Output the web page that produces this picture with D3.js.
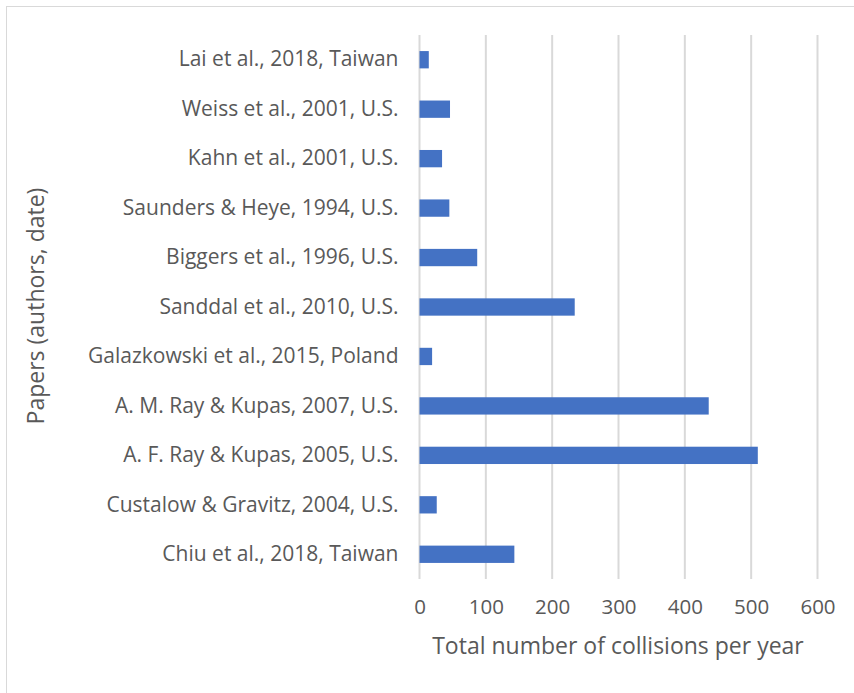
<!DOCTYPE html>
<html>
<head>
<meta charset="utf-8">
<script src="https://cdn.jsdelivr.net/npm/d3@7"></script>
<style>
  html, body { margin: 0; padding: 0; background: #fff; }
  svg { display: block; }
  text { font-family: "Open Sans", "Liberation Sans", sans-serif; fill: #595959; }
</style>
</head>
<body>
<svg id="chart" width="854" height="693"></svg>
<script>
// Papers reporting ambulance collisions, listed top to bottom
const papers = [
  "Lai et al., 2018, Taiwan",
  "Weiss et al., 2001, U.S.",
  "Kahn et al., 2001, U.S.",
  "Saunders & Heye, 1994, U.S.",
  "Biggers et al., 1996, U.S.",
  "Sanddal et al., 2010, U.S.",
  "Galazkowski et al., 2015, Poland",
  "A. M. Ray & Kupas, 2007, U.S.",
  "A. F. Ray & Kupas, 2005, U.S.",
  "Custalow & Gravitz, 2004, U.S.",
  "Chiu et al., 2018, Taiwan"
];
// Total number of collisions per year for each paper
const collisions = [14, 46, 34, 45, 87, 234, 19, 436, 510, 26, 143];
const xTicks = [0, 100, 200, 300, 400, 500, 600];

const svg = d3.select("#chart");
const plot = { left: 419.5, right: 817.5, top: 35, bottom: 579 };

const x = d3.scaleLinear().domain([0, 600]).range([plot.left, plot.right]);
const y = d3.scaleBand().domain(papers).range([plot.top, plot.bottom]).paddingInner(0.65).paddingOuter(0.325);

// chart frame
svg.append("rect")
  .attr("x", 6.5).attr("y", 6.5).attr("width", 860).attr("height", 700)
  .attr("fill", "none").attr("stroke", "#d9d9d9").attr("stroke-width", 1);

// vertical gridlines
svg.append("g")
  .selectAll("line")
  .data(xTicks)
  .join("line")
  .attr("x1", d => x(d)).attr("x2", d => x(d))
  .attr("y1", plot.top).attr("y2", plot.bottom)
  .attr("stroke", "#d9d9d9").attr("stroke-width", 2);

// bars
svg.append("g")
  .selectAll("rect")
  .data(papers)
  .join("rect")
  .attr("x", x(0))
  .attr("y", d => y(d))
  .attr("width", (d, i) => x(collisions[i]) - x(0))
  .attr("height", y.bandwidth())
  .attr("fill", "#4472c4");

// x axis labels
const xAxis = svg.append("g")
  .attr("transform", `translate(0,${plot.bottom})`)
  .call(d3.axisBottom(x).tickValues(xTicks).tickSize(0).tickPadding(20));
xAxis.select(".domain").remove();
xAxis.selectAll("text")
  .style("font-size", "20.5px")
  .attr("fill", "#595959");

// y axis labels
const yAxis = svg.append("g")
  .attr("transform", `translate(${plot.left},0)`)
  .call(d3.axisLeft(y).tickSize(0).tickPadding(21));
yAxis.select(".domain").remove();
yAxis.selectAll("text")
  .style("font-size", "21px")
  .attr("fill", "#595959");

// axis titles
svg.append("text")
  .attr("x", 618).attr("y", 648)
  .attr("text-anchor", "middle").attr("dominant-baseline", "middle")
  .style("font-size", "23px")
  .text("Total number of collisions per year");

svg.append("text")
  .attr("transform", "translate(38,306) rotate(-90)")
  .attr("text-anchor", "middle").attr("dominant-baseline", "middle")
  .style("font-size", "23px")
  .text("Papers (authors, date)");
</script>
</body>
</html>
